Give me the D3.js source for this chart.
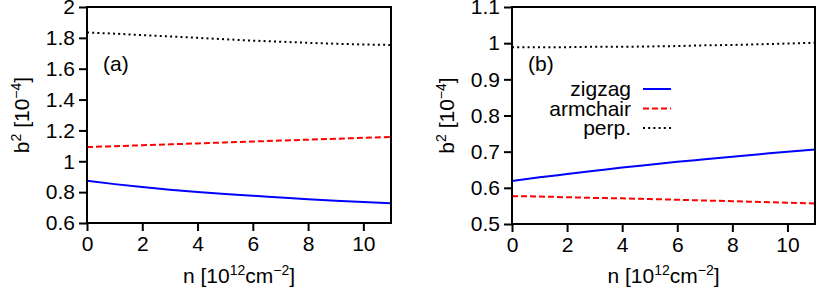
<!DOCTYPE html>
<html>
<head>
<meta charset="utf-8">
<script src="https://cdn.jsdelivr.net/npm/d3@7"></script>
<style>
  body { margin: 0; background: #fff; }
  svg text { font-family: "Liberation Sans", Arial, sans-serif; fill: #000; }
  .domain { display: none; }
  .tick line { stroke: #000; stroke-width: 2; }
</style>
</head>
<body>
<script>
// density n in 10^12 cm^-2
const nVals = [0, 1, 2, 3, 4, 5, 6, 7, 8, 9, 10, 11];

// panel (a)
const aZigzag   = [0.874, 0.852, 0.833, 0.816, 0.801, 0.788, 0.777, 0.765, 0.754, 0.745, 0.736, 0.728];
const aArmchair = [1.092, 1.098, 1.104, 1.110, 1.116, 1.122, 1.128, 1.134, 1.140, 1.146, 1.152, 1.157];
const aPerp     = [1.835, 1.827, 1.818, 1.809, 1.800, 1.791, 1.782, 1.775, 1.768, 1.762, 1.757, 1.754];

// panel (b)
const bZigzag   = [0.619, 0.629, 0.638, 0.647, 0.656, 0.664, 0.672, 0.679, 0.686, 0.693, 0.700, 0.706];
const bArmchair = [0.577, 0.576, 0.574, 0.572, 0.571, 0.569, 0.567, 0.565, 0.563, 0.561, 0.559, 0.557];
const bPerp     = [0.989, 0.989, 0.989, 0.990, 0.990, 0.991, 0.992, 0.994, 0.995, 0.997, 0.999, 1.001];

const xTicks = [0, 2, 4, 6, 8, 10];
const aYTicks = [0.6, 0.8, 1, 1.2, 1.4, 1.6, 1.8, 2];
const bYTicks = [0.5, 0.6, 0.7, 0.8, 0.9, 1, 1.1];

const legendNames = ["zigzag", "armchair", "perp."];

const styles = [
  {color: "#0000ff", dash: null},
  {color: "#ff0000", dash: "6,3"},
  {color: "#000000", dash: "2,3.2"}
];

const width = 822, height = 290;
const fs = 21, sup = 14;
const svg = d3.select("body").append("svg")
  .attr("width", width).attr("height", height);

function drawPanel(p) {
  const x = d3.scaleLinear().domain([0, 11]).range([p.left, p.right]);
  const y = d3.scaleLinear().domain(p.yDomain).range([p.bottom, p.top]);
  const g = svg.append("g");

  // series
  const line = d3.line().x((d, i) => x(nVals[i])).y(d => y(d)).curve(d3.curveMonotoneX);
  p.series.forEach((s, k) => {
    g.append("path")
      .datum(s)
      .attr("d", line)
      .attr("fill", "none")
      .attr("stroke", styles[k].color)
      .attr("stroke-width", 2)
      .attr("stroke-dasharray", styles[k].dash);
  });

  // axes
  g.append("g")
    .attr("transform", "translate(0," + p.bottom + ")")
    .call(d3.axisBottom(x).tickValues(xTicks).tickSize(8).tickPadding(5).tickFormat(d3.format("d")))
    .call(a => a.selectAll("text").attr("font-size", fs).style("font-family", "Liberation Sans, Arial, sans-serif"));
  g.append("g")
    .attr("transform", "translate(" + p.left + ",0)")
    .call(d3.axisLeft(y).tickValues(p.yTicks).tickSize(8).tickPadding(4).tickFormat(d => String(+d.toFixed(1))))
    .call(a => a.selectAll("text").attr("font-size", fs).style("font-family", "Liberation Sans, Arial, sans-serif"));

  // frame
  g.append("rect")
    .attr("x", p.left).attr("y", p.top)
    .attr("width", p.right - p.left).attr("height", p.bottom - p.top)
    .attr("fill", "none").attr("stroke", "#000").attr("stroke-width", 2);

  // panel label
  g.append("text").attr("x", p.left + 16).attr("y", 71)
    .attr("font-size", fs).text(p.label);

  // x title
  const xt = g.append("text")
    .attr("x", (p.left + p.right) / 2).attr("y", 283)
    .attr("text-anchor", "middle").attr("font-size", fs);
  xt.append("tspan").text("n [10");
  xt.append("tspan").attr("dy", -8).attr("font-size", sup).text("12");
  xt.append("tspan").attr("dy", 8).text("cm");
  xt.append("tspan").attr("dy", -8).attr("font-size", sup).text("\u22122");
  xt.append("tspan").attr("dy", 8).text("]");

  // y title
  const yt = g.append("text")
    .attr("transform", "translate(" + (p.left - 58) + "," + ((p.top + p.bottom) / 2) + ") rotate(-90)")
    .attr("text-anchor", "middle").attr("font-size", fs);
  yt.append("tspan").text("b");
  yt.append("tspan").attr("dy", -8).attr("font-size", sup).text("2");
  yt.append("tspan").attr("dy", 8).text(" [10");
  yt.append("tspan").attr("dy", -8).attr("font-size", sup).text("\u22124");
  yt.append("tspan").attr("dy", 8).text("]");

  return {x, y, g};
}

drawPanel({
  left: 87, right: 391, top: 7, bottom: 223,
  yDomain: [0.6, 2], yTicks: aYTicks, label: "(a)",
  series: [aZigzag, aArmchair, aPerp]
});

const pb = drawPanel({
  left: 512, right: 815, top: 7, bottom: 224,
  yDomain: [0.5, 1.1], yTicks: bYTicks, label: "(b)",
  series: [bZigzag, bArmchair, bPerp]
});

// legend in panel (b)
const leg = pb.g.append("g");
legendNames.forEach((name, i) => {
  const yy = 89 + i * 19.5;
  leg.append("text").attr("x", 631).attr("y", yy + 7)
    .attr("text-anchor", "end").attr("font-size", fs).text(name);
  leg.append("line")
    .attr("x1", 643).attr("x2", 671).attr("y1", yy).attr("y2", yy)
    .attr("stroke", styles[i].color).attr("stroke-width", 2)
    .attr("stroke-dasharray", styles[i].dash);
});
</script>
</body>
</html>
